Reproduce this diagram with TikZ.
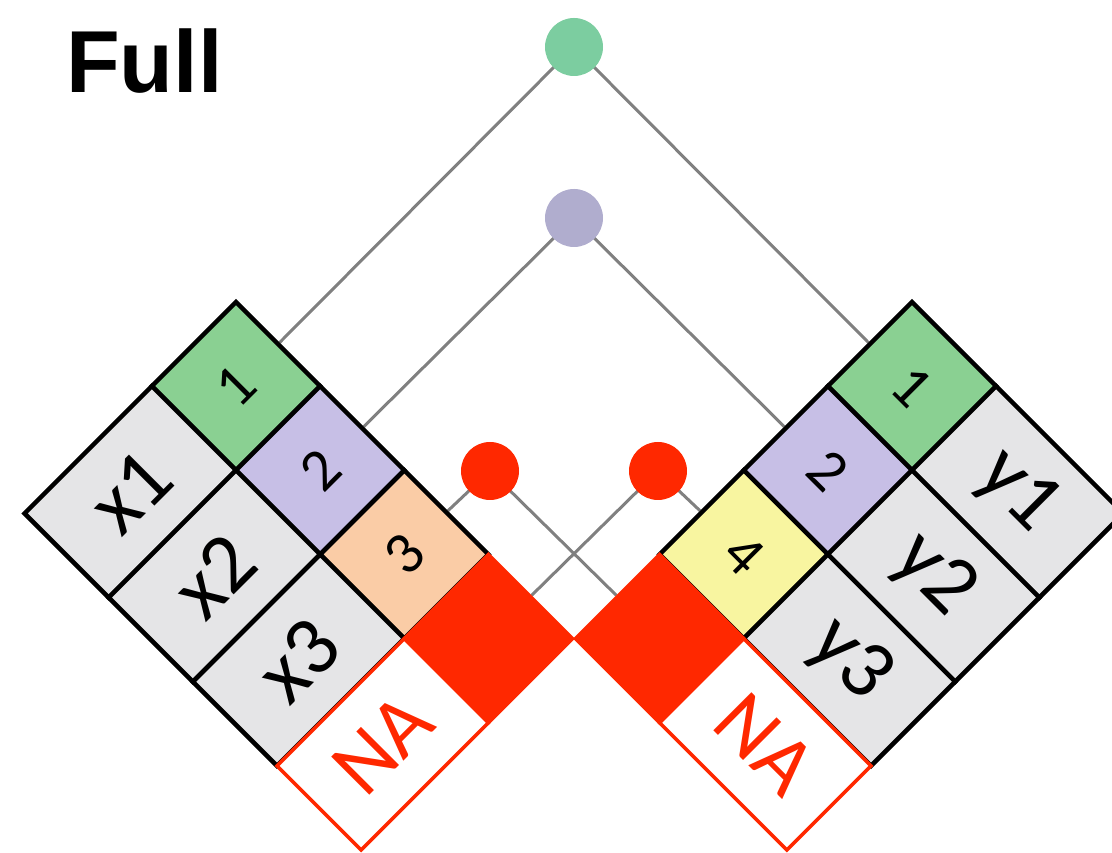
\documentclass[tikz,border=0pt]{standalone}
\usepackage{fontspec}
\setmainfont{Carlito}
\newfontfamily\titlefont{Liberation Sans}

\definecolor{kgreen}{RGB}{138,208,146}
\definecolor{kpurple}{RGB}{199,191,230}
\definecolor{korange}{RGB}{250,204,166}
\definecolor{kyellow}{RGB}{248,245,160}
\definecolor{vgrey}{RGB}{229,229,231}
\definecolor{nared}{RGB}{255,40,0}
\definecolor{dotgreen}{RGB}{124,205,160}
\definecolor{dotpurple}{RGB}{176,173,206}
\definecolor{linkgrey}{RGB}{128,128,128}

\pgfdeclarelayer{background}
\pgfsetlayers{background,main}

\tikzset{
  keycell/.style={draw=black, line width=4.5pt, rotate=90, inner sep=0pt,
    minimum width=119pt, minimum height=119pt,
    font=\fontsize{60}{60}\selectfont},
  valcell/.style={draw=black, fill=vgrey, line width=4.5pt, rotate=90, inner sep=0pt,
    minimum width=180pt, minimum height=119pt,
    font=\fontsize{84}{84}\selectfont},
  misskey/.style={keycell, fill=nared, draw=nared, line width=3.5pt},
  missval/.style={valcell, fill=white, draw=nared, text=nared, line width=3.5pt},
  dot/.style={circle, inner sep=0pt, minimum size=58pt, fill=#1},
  link/.style={draw=linkgrey, line width=3pt}
}

\begin{document}
\begin{tikzpicture}[x=1pt,y=1pt]
\useasboundingbox (0,0) rectangle (1112,853);

% title
\node[font=\titlefont\bfseries\fontsize{88}{88}\selectfont, anchor=base west,
      inner sep=0pt] (title) at (66,760) {Full};

% left table x, tilted so that its rows run down to the right
\begin{scope}[shift={(236,551)}, rotate=-45, transform shape]
  \node[keycell, fill=kgreen]  (xk1) at (59.5,-59.5)  {1};
  \node[keycell, fill=kpurple] (xk2) at (178.5,-59.5) {2};
  \node[keycell, fill=korange] (xk3) at (297.5,-59.5) {3};
  \node[valcell] (xv1) at (59.5,-209)  {x1};
  \node[valcell] (xv2) at (178.5,-209) {x2};
  \node[valcell] (xv3) at (297.5,-209) {x3};
  \node[misskey] (xk4) at (416.5,-59.5) {};
  \node[missval] (xv4) at (416.5,-209)  {NA};
\end{scope}

% right table y, mirrored
\begin{scope}[shift={(912,551)}, rotate=-135, transform shape]
  \node[keycell, fill=kgreen]  (yk1) at (59.5,59.5)  {1};
  \node[keycell, fill=kpurple] (yk2) at (178.5,59.5) {2};
  \node[keycell, fill=kyellow] (yk3) at (297.5,59.5) {4};
  \node[valcell] (yv1) at (59.5,209)  {y1};
  \node[valcell] (yv2) at (178.5,209) {y2};
  \node[valcell] (yv3) at (297.5,209) {y3};
  \node[misskey] (yk4) at (416.5,59.5) {};
  \node[missval] (yv4) at (416.5,209)  {NA};
\end{scope}

% key match points
\node[dot=dotgreen]  (m1) at (574,806) {};
\node[dot=dotpurple] (m2) at (574,635) {};
\node[dot=nared]     (m3) at (490,382) {};
\node[dot=nared]     (m4) at (658,382) {};

% connectors from each match point to the rows it joins
\begin{pgfonlayer}{background}
  \draw[link] (m1.center) -- (xk1.east);
  \draw[link] (m1.center) -- (yk1.west);
  \draw[link] (m2.center) -- (xk2.east);
  \draw[link] (m2.center) -- (yk2.west);
  \draw[link] (m3.center) -- (xk3.east);
  \draw[link] (m3.center) -- (yk4.west);
  \draw[link] (m4.center) -- (yk3.west);
  \draw[link] (m4.center) -- (xk4.east);
\end{pgfonlayer}
\end{tikzpicture}
\end{document}
